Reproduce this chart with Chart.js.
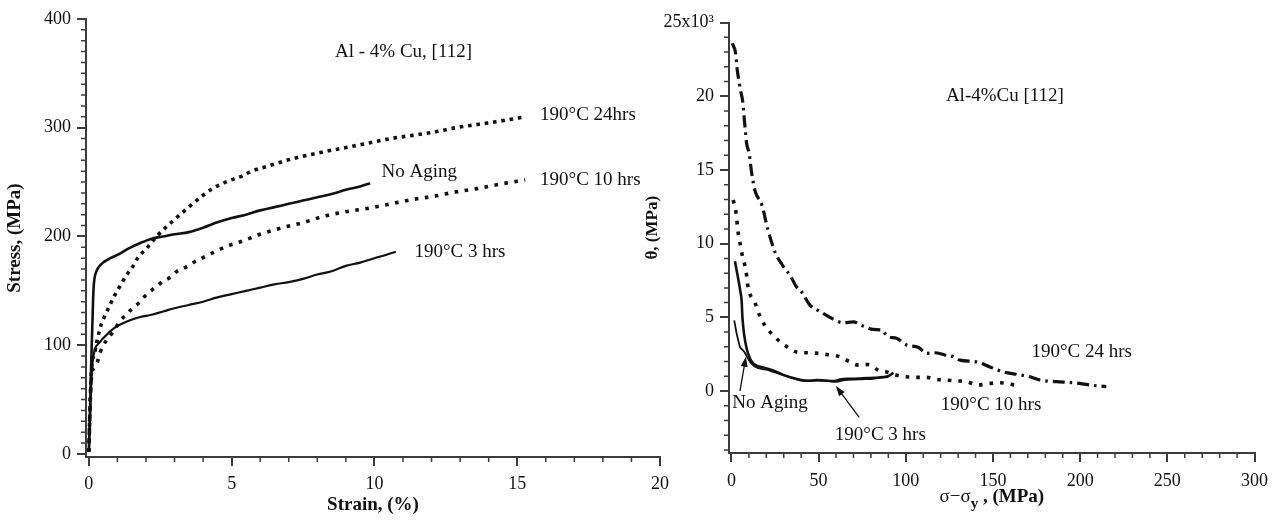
<!DOCTYPE html>
<html>
<head>
<meta charset="utf-8">
<title>Al-4%Cu [112] stress-strain and work hardening</title>
<script src="https://cdn.jsdelivr.net/npm/chart.js@4.4.1/dist/chart.umd.min.js"></script>
<style>
  html, body { margin: 0; padding: 0; background: #fff; }
  #wrap { position: relative; width: 1277px; height: 521px; overflow: hidden; }
  canvas { position: absolute; top: 0; }
  #stressChart { left: 0; }
  #thetaChart { left: 620px; }
</style>
</head>
<body>
<div id="wrap">
  <canvas id="stressChart" width="680" height="521"></canvas>
  <canvas id="thetaChart" width="657" height="521"></canvas>
</div>
<script>
// ---------------------------------------------------------------------------
// Stress vs strain, Al - 4% Cu [112]
// ---------------------------------------------------------------------------
const strainTicks = [0, 5, 10, 15, 20];
const stressTicks = [0, 100, 200, 300, 400];

const noAgingStrain = [0, 0.03, 0.07, 0.1, 0.13, 0.16, 0.2, 0.25, 0.35, 0.5, 0.75, 1.0, 1.4, 1.8, 2.2, 2.6, 3.0, 3.5, 4.0, 4.5, 5.0, 5.5, 6.0, 6.5, 7.0, 7.5, 8.0, 8.5, 9.0, 9.5, 9.85];
const noAgingStress = [2, 30, 70, 100, 125, 150, 162, 167, 172, 176, 180, 183, 189, 194, 198, 200, 202, 204, 208, 213, 217, 220, 224, 227, 230, 233, 236, 239, 243, 246, 249];

const aged3Strain = [0, 0.05, 0.1, 0.15, 0.21, 0.39, 0.6, 0.85, 1.1, 1.44, 1.8, 2.2, 2.6, 3.0, 3.5, 4.0, 4.5, 5.0, 5.5, 6.0, 6.5, 7.0, 7.5, 8.0, 8.5, 9.0, 9.5, 10.0, 10.4, 10.75];
const aged3Stress = [2, 40, 75, 88, 96, 103, 109, 115, 119, 123, 126, 128, 131, 134, 137, 140, 144, 147, 150, 153, 156, 158, 161, 165, 168, 173, 176, 180, 183, 186];

const aged10Strain = [0, 0.05, 0.1, 0.2, 0.29, 0.39, 0.6, 0.84, 1.09, 1.32, 1.55, 1.76, 1.96, 2.17, 2.39, 2.6, 2.86, 3.07, 3.36, 3.71, 4.03, 4.49, 4.94, 5.4, 6.0, 6.77, 7.53, 8.29, 9.05, 9.81, 10.57, 11.33, 12.09, 12.85, 13.6, 14.37, 15.28];
const aged10Stress = [2, 50, 72, 80, 84, 93, 104, 112, 122, 128.7, 134.5, 139, 145, 150, 154.5, 159, 162.5, 167.7, 171.3, 176.8, 181, 187, 192, 196, 202, 208, 213, 219, 223, 226, 230, 234, 237, 241, 244, 248, 252];

const aged24Strain = [0, 0.05, 0.1, 0.2, 0.27, 0.44, 0.56, 0.74, 0.85, 0.97, 1.15, 1.32, 1.5, 1.73, 2.02, 2.37, 2.72, 3.19, 3.77, 4.33, 4.79, 5.4, 5.7, 6.31, 6.92, 7.53, 8.44, 9.05, 9.81, 10.57, 11.33, 12.09, 12.85, 13.6, 14.37, 15.28];
const aged24Stress = [2, 50, 80, 92, 102, 119.5, 127, 137, 143, 149, 157, 164.6, 170.7, 181, 189, 200, 209, 220, 233, 244, 250, 256, 260, 265, 270, 274, 279, 282, 286, 290, 293, 296, 300, 303, 306, 310];

const stressNotes = [
  { text: 'Al - 4% Cu, [112]', x: 8.62, y: 370 },
  { text: '190°C 24hrs', x: 15.8, y: 311.7 },
  { text: 'No Aging', x: 10.25, y: 259.6 },
  { text: '190°C 10 hrs', x: 15.8, y: 252 },
  { text: '190°C 3 hrs', x: 11.4, y: 185.4 }
];

// ---------------------------------------------------------------------------
// Work hardening rate theta vs (sigma - sigma_y), in units of 10^3 MPa
// ---------------------------------------------------------------------------
const dropTicks = [0, 50, 100, 150, 200, 250, 300];
const thetaTicks = [0, 5, 10, 15, 20, 25];

const noAgingDrop = [1.6, 2.2, 3.0, 4.0, 4.9, 6.3, 7.7, 9.0, 10.6, 12.5, 14.4, 17, 20.1, 24, 27.7, 32, 36, 40, 45, 50, 55, 60, 65, 70, 75, 80, 85, 90];
const noAgingTheta = [4.8, 4.4, 3.9, 3.4, 3.0, 2.8, 2.6, 2.3, 2.0, 1.75, 1.6, 1.5, 1.45, 1.3, 1.16, 1.0, 0.85, 0.72, 0.7, 0.72, 0.7, 0.62, 0.75, 0.78, 0.8, 0.82, 0.9, 0.95];

const aged3Drop = [2.0, 2.8, 3.6, 4.5, 5.2, 5.8, 6.3, 7.2, 8.9, 10.5, 12.3, 15, 18.2, 24, 29.7, 35, 39.3, 44, 48.9, 53, 58.4, 63, 68, 73, 77.6, 82, 87.1, 90.5, 92.9];
const aged3Theta = [8.8, 8.3, 7.8, 7.2, 6.7, 6.2, 5.0, 3.9, 2.8, 2.25, 1.9, 1.7, 1.6, 1.4, 1.1, 0.9, 0.76, 0.7, 0.74, 0.72, 0.68, 0.8, 0.83, 0.85, 0.88, 0.9, 0.95, 1.05, 1.25];

const aged10Drop = [1.0, 2.6, 3.9, 5.3, 6.4, 8.3, 9.6, 13.5, 15.9, 19.2, 24, 30.7, 37.4, 43.1, 49.8, 54.6, 62.2, 67, 72.7, 78.5, 84.2, 89, 94.8, 100.5, 106.3, 112, 117.7, 123.5, 129.2, 134.9, 141.6, 148.3, 154, 162.6];
const aged10Theta = [12.96, 12.1, 10.7, 9.8, 9.1, 8.2, 7.0, 6.0, 5.2, 4.45, 3.77, 3.1, 2.65, 2.6, 2.56, 2.48, 2.33, 2.04, 1.76, 1.8, 1.42, 1.3, 1.08, 0.97, 0.93, 0.93, 0.79, 0.74, 0.69, 0.64, 0.41, 0.52, 0.56, 0.41];

const aged24Drop = [0.5, 2.4, 3.3, 4.5, 5.0, 6.4, 7.2, 8.1, 8.7, 10.2, 11.6, 13.5, 17.5, 20.8, 25.1, 29.5, 33.9, 37.1, 40.4, 45, 50.7, 58.4, 64.2, 69.8, 75.6, 81.3, 86, 89.9, 94.7, 100.4, 107.1, 111.9, 116.7, 122.4, 127.2, 131, 140.6, 148.2, 155.9, 163.5, 170.2, 176.9, 186.4, 196, 205.5, 215];
const aged24Theta = [23.6, 22.9, 21.8, 20.9, 20.5, 19.7, 18.7, 17.5, 16.8, 16.1, 14.8, 13.6, 12.6, 11.0, 9.4, 8.5, 7.8, 7.1, 6.7, 5.83, 5.4, 4.88, 4.63, 4.7, 4.41, 4.18, 4.14, 3.69, 3.58, 3.13, 2.97, 2.56, 2.6, 2.45, 2.33, 2.1, 1.98, 1.64, 1.3, 1.14, 1.0, 0.75, 0.64, 0.57, 0.41, 0.3];

const thetaNotes = [
  { text: 'Al-4%Cu [112]', x: 123, y: 20.0 },
  { text: '190°C 24 hrs', x: 172.1, y: 2.67 },
  { text: '190°C 10 hrs', x: 120.1, y: -0.95 },
  { text: 'No Aging', x: 0.5, y: -0.83 },
  { text: '190°C 3 hrs', x: 59.3, y: -2.99 }
];
const thetaArrows = [
  { from: [4.9, 0.02], to: [8.3, 2.33] },
  { from: [73.3, -1.78], to: [59.9, 0.34] }
];

// ---------------------------------------------------------------------------
// shared look
// ---------------------------------------------------------------------------
const axisInk = '#3c3c3c';
const textInk = '#111';
const serif = '"Liberation Serif", "Times New Roman", serif';

function pairs(xs, ys) {
  return xs.map((v, i) => ({ x: v, y: ys[i] }));
}

function curve(label, xs, ys, width, dash) {
  return {
    label,
    data: pairs(xs, ys),
    showLine: true,
    pointRadius: 0,
    borderColor: textInk,
    borderWidth: width,
    borderDash: dash || [],
    borderCapStyle: 'butt',
    cubicInterpolationMode: 'monotone',
    fill: false
  };
}

function axis(min, max, tickValues, pad, fit, title) {
  return {
    type: 'linear',
    min,
    max,
    border: { display: true, color: axisInk, width: 2 },
    grid: { drawOnChartArea: false, drawTicks: true, tickLength: 9, color: axisInk, lineWidth: 2 },
    ticks: {
      autoSkip: false,
      maxRotation: 0,
      color: textInk,
      padding: pad,
      font: { family: serif, size: 18 },
      callback: v => String(v)
    },
    afterBuildTicks: scale => { scale.ticks = tickValues.map(v => ({ value: v })); },
    title: title || { display: false },
    afterFit: fit
  };
}

// short unlabeled ticks between the labeled ones
const minorTicks = {
  id: 'minorTicks',
  afterDraw(chart, args, opts) {
    const { ctx, chartArea, scales } = chart;
    ctx.save();
    ctx.strokeStyle = axisInk;
    ctx.lineWidth = 1.5;
    ctx.beginPath();
    ['x', 'y'].forEach(key => {
      const scale = scales[key];
      const step = opts[key];
      const major = opts[key + 'Major'];
      const ratio = major / step;
      for (let i = Math.ceil(scale.min / step); i <= Math.floor(scale.max / step + 1e-9); i++) {
        if (i % ratio === 0) continue;
        const p = scale.getPixelForValue(i * step);
        if (key === 'x') {
          ctx.moveTo(p, chartArea.bottom);
          ctx.lineTo(p, chartArea.bottom + opts.length);
        } else {
          ctx.moveTo(chartArea.left - opts.length, p);
          ctx.lineTo(chartArea.left, p);
        }
      }
    });
    ctx.stroke();
    ctx.restore();
  }
};

// curve labels and pointer arrows, placed in data units
const notes = {
  id: 'notes',
  afterDatasetsDraw(chart, args, opts) {
    const { ctx, scales: { x, y } } = chart;
    ctx.save();
    ctx.fillStyle = textInk;
    ctx.strokeStyle = textInk;
    ctx.font = '19px ' + serif;
    ctx.textAlign = 'left';
    ctx.textBaseline = 'middle';
    (opts.items || []).forEach(n => {
      ctx.fillText(n.text, x.getPixelForValue(n.x), y.getPixelForValue(n.y));
    });
    (opts.arrows || []).forEach(a => {
      const x1 = x.getPixelForValue(a.from[0]), y1 = y.getPixelForValue(a.from[1]);
      const x2 = x.getPixelForValue(a.to[0]), y2 = y.getPixelForValue(a.to[1]);
      const ang = Math.atan2(y2 - y1, x2 - x1);
      ctx.lineWidth = 1.3;
      ctx.beginPath();
      ctx.moveTo(x1, y1);
      ctx.lineTo(x2 - 6 * Math.cos(ang), y2 - 6 * Math.sin(ang));
      ctx.stroke();
      ctx.beginPath();
      ctx.moveTo(x2, y2);
      ctx.lineTo(x2 - 10 * Math.cos(ang) + 3.5 * Math.sin(ang), y2 - 10 * Math.sin(ang) - 3.5 * Math.cos(ang));
      ctx.lineTo(x2 - 10 * Math.cos(ang) - 3.5 * Math.sin(ang), y2 - 10 * Math.sin(ang) + 3.5 * Math.cos(ang));
      ctx.closePath();
      ctx.fill();
    });
    ctx.restore();
  }
};

// axis titles of the theta panel (subscript and rotated theta)
const thetaTitles = {
  id: 'thetaTitles',
  afterDraw(chart) {
    const { ctx, chartArea } = chart;
    ctx.save();
    ctx.fillStyle = textInk;
    ctx.textBaseline = 'alphabetic';
    ctx.textAlign = 'left';
    const parts = [
      { t: 'σ−σ', font: '19px ' + serif, dy: 0 },
      { t: 'y', font: 'bold 15px ' + serif, dy: 6 },
      { t: ' , (MPa)', font: 'bold 19px ' + serif, dy: 0 }
    ];
    let total = 0;
    parts.forEach(p => { ctx.font = p.font; p.w = ctx.measureText(p.t).width; total += p.w; });
    let px = (chartArea.left + chartArea.right) / 2 - total / 2;
    const base = chartArea.bottom + 49;
    parts.forEach(p => { ctx.font = p.font; ctx.fillText(p.t, px, base + p.dy); px += p.w; });

    ctx.translate(chartArea.left - 76, (chartArea.top + chartArea.bottom) / 2 - 10);
    ctx.rotate(-Math.PI / 2);
    ctx.font = 'bold 17px ' + serif;
    ctx.textAlign = 'center';
    ctx.textBaseline = 'middle';
    ctx.fillText('θ, (MPa)', 0, 0);
    ctx.restore();
  }
};

Chart.defaults.font.family = serif;

// ---------------------------------------------------------------------------
// left panel
// ---------------------------------------------------------------------------
new Chart(document.getElementById('stressChart'), {
  type: 'scatter',
  data: {
    datasets: [
      curve('No Aging', noAgingStrain, noAgingStress, 2.6),
      curve('190°C 3 hrs', aged3Strain, aged3Stress, 2.2),
      curve('190°C 10 hrs', aged10Strain, aged10Stress, 3.6, [3.6, 6.5]),
      curve('190°C 24hrs', aged24Strain, aged24Stress, 3.6, [3.6, 4.8])
    ]
  },
  options: {
    responsive: false,
    animation: false,
    events: [],
    layout: { padding: { left: 0, right: 20, top: 19, bottom: 0 } },
    scales: {
      x: axis(-0.1, 20, strainTicks, 7, s => { s.height = 64; }, {
        display: true, text: 'Strain, (%)', color: textInk,
        font: { family: serif, size: 19, weight: 'bold' }, padding: { top: 0, bottom: 5 }
      }),
      y: axis(-2.8, 400, stressTicks, 6, s => { s.width = 86; }, {
        display: true, text: 'Stress, (MPa)', color: textInk,
        font: { family: serif, size: 19, weight: 'bold' }, padding: { top: 4, bottom: 0 }
      })
    },
    plugins: {
      legend: { display: false },
      tooltip: { enabled: false },
      minorTicks: { x: 1, xMajor: 5, y: 10, yMajor: 100, length: 5 },
      notes: { items: stressNotes }
    }
  },
  plugins: [minorTicks, notes]
});

// ---------------------------------------------------------------------------
// right panel
// ---------------------------------------------------------------------------
const thetaY = axis(-4.2, 25, thetaTicks, 6, s => { s.width = 109; });
thetaY.ticks.callback = v => (v === 25 ? '25x10³' : String(v));

new Chart(document.getElementById('thetaChart'), {
  type: 'scatter',
  data: {
    datasets: [
      curve('No Aging', noAgingDrop, noAgingTheta, 1.8),
      curve('190°C 3 hrs', aged3Drop, aged3Theta, 2.6),
      curve('190°C 10 hrs', aged10Drop, aged10Theta, 3.6, [3.6, 7]),
      curve('190°C 24 hrs', aged24Drop, aged24Theta, 3.2, [12, 5, 2.5, 5])
    ]
  },
  options: {
    responsive: false,
    animation: false,
    events: [],
    layout: { padding: { left: 0, right: 22.5, top: 22.5, bottom: 0 } },
    scales: {
      x: axis(-1.4, 300, dropTicks, 8, s => { s.height = 68; }),
      y: thetaY
    },
    plugins: {
      legend: { display: false },
      tooltip: { enabled: false },
      minorTicks: { x: 10, xMajor: 50, y: 1, yMajor: 5, length: 5 },
      notes: { items: thetaNotes, arrows: thetaArrows }
    }
  },
  plugins: [minorTicks, notes, thetaTitles]
});
</script>
</body>
</html>
